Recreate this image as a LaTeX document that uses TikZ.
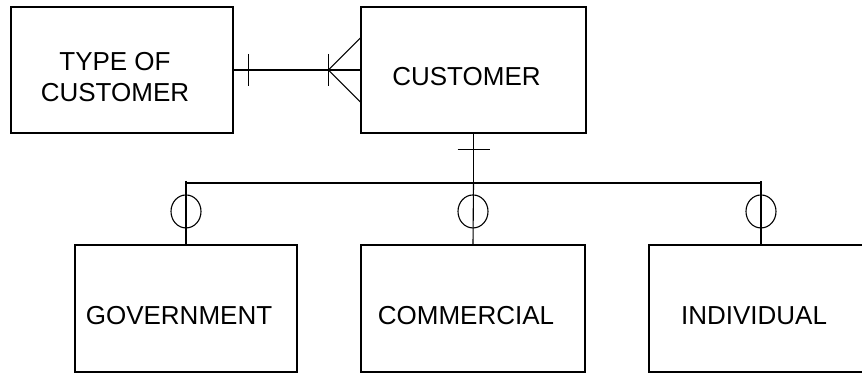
\documentclass[tikz,border=0pt]{standalone}
\usepackage{fontspec}
\setmainfont{Liberation Sans}
\usepackage{tikz}
\usetikzlibrary{positioning}
\usetikzlibrary{calc}
\tikzset{entity/.style={draw, line width=1.1pt, minimum height=126pt, inner sep=0pt,
  label={[align=center, xshift=-7pt, yshift=-7pt, font=\fontsize{26}{31}\selectfont]center:#1}}}
\tikzset{relline/.style={line width=1.1pt}}

\begin{document}
\begin{tikzpicture}[x=1pt, y=1pt]
\useasboundingbox (0,0) rectangle (862,-374);

\node[entity={TYPE OF\\CUSTOMER}, minimum width=222pt] (type) at (122, -70) {};
\node[entity=CUSTOMER, minimum width=225pt] (cust) at (473.5, -70) {};

\node[entity=GOVERNMENT, minimum width=222pt, minimum height=127pt] (gov) at (186, -308.5) {};
\node[entity=COMMERCIAL, minimum width=224pt, minimum height=127pt] (com) at (473, -308.5) {};
\node[entity=INDIVIDUAL, minimum width=224pt, minimum height=127pt] (ind) at (761, -308.5) {};

\coordinate (hubl) at (gov.north |- 0,-183);
\coordinate (hubc) at (cust.south |- 0,-183);
\coordinate (hubr) at (ind.north |- 0,-183);

% one type -- many customers
\draw[relline] (type.east) -- (cust.west);
\draw[relline] ([xshift=15pt]type.east) ++(0,16) -- ++(0,-32);
\draw[relline] ([xshift=-32pt]cust.west) ++(0,16) -- ++(0,-32);
\draw[relline] (cust.west) ++(0,32) -- ([xshift=-32pt]cust.west) -- ++(32,-32);

% subtypes
\draw[relline] (cust.south) -- (hubc);
\draw[relline] ([yshift=-16pt]cust.south) ++(-16,0) -- ++(32,0);
\draw[relline] ([yshift=2pt]hubl) -- (hubl) -- (hubr) -- ([yshift=2pt]hubr);
\draw[relline] (hubl) -- (gov.north);
\draw[relline] (hubc) -- (com.north);
\draw[relline] (hubr) -- (ind.north);

\draw[relline] ([yshift=33pt]gov.north) ellipse (15 and 16.5);
\draw[relline] ([yshift=33pt]com.north) ellipse (15 and 16.5);
\draw[relline] ([yshift=33pt]ind.north) ellipse (15 and 16.5);

\end{tikzpicture}
\end{document}
